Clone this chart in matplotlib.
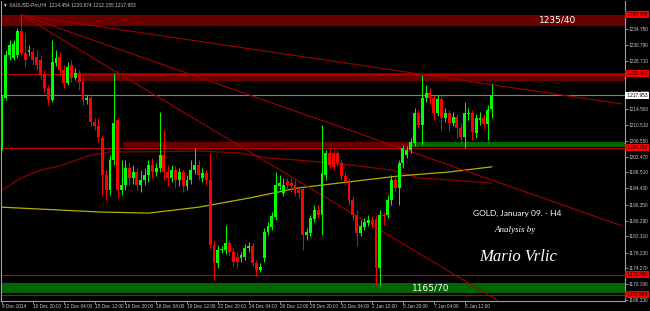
import matplotlib
matplotlib.use('Agg')
import matplotlib.pyplot as plt
import matplotlib.transforms as mtransforms
from matplotlib.patches import Rectangle

# XAUUSD H4 candles, 9 Dec 2014 - 9 Jan 2015
opens = [1204.9, 1217.3, 1228.2, 1227.4, 1228.2, 1234.2, 1228.7, 1229.0, 1229.0, 1227.7,
         1226.9, 1223.1, 1219.9, 1216.8, 1226.1, 1227.7, 1224.4, 1221.1, 1225.6, 1222.4,
         1223.7, 1221.3, 1216.8, 1217.3, 1211.2, 1210.2, 1207.2, 1197.9, 1194.0, 1201.7,
         1211.7, 1194.0, 1195.3, 1199.6, 1197.1, 1198.6, 1195.3, 1196.6, 1197.9, 1200.4,
         1198.6, 1199.6, 1202.9, 1198.6, 1197.1, 1199.1, 1196.6, 1198.6, 1195.1, 1196.6,
         1199.1, 1200.4, 1197.1, 1198.4, 1196.6, 1180.1, 1175.6, 1178.9, 1178.9, 1180.6,
         1178.4, 1177.1, 1176.9, 1177.1, 1179.3, 1179.9, 1175.6, 1173.9, 1176.9, 1183.5,
         1184.7, 1187.3, 1195.1, 1193.3, 1196.4, 1195.8, 1195.3, 1194.0, 1194.3, 1182.7,
         1183.1, 1186.7, 1189.1, 1187.8, 1197.9, 1203.4, 1203.4, 1203.4, 1200.9, 1197.6,
         1196.1, 1191.5, 1187.8, 1183.1, 1184.7, 1185.7, 1186.5, 1186.7, 1174.3, 1187.8,
         1187.8, 1191.5, 1196.6, 1194.5, 1200.9, 1202.9, 1204.2, 1205.9, 1213.5, 1210.5,
         1217.3, 1218.6, 1217.3, 1213.5, 1217.0, 1212.2, 1213.5, 1210.9, 1212.5, 1209.7,
         1207.4, 1213.3, 1213.5, 1208.5, 1211.7, 1212.2, 1210.8, 1214.454]
highs = [1218.1, 1229.5, 1232.0, 1232.0, 1235.0, 1238.3, 1233.7, 1230.7, 1229.9, 1229.4,
         1228.2, 1224.4, 1220.6, 1232.0, 1229.4, 1229.0, 1225.6, 1226.4, 1226.9, 1224.9,
         1224.4, 1222.4, 1218.1, 1217.8, 1212.2, 1212.2, 1207.9, 1199.1, 1202.9, 1223.7,
         1212.2, 1201.7, 1201.7, 1201.2, 1200.4, 1199.6, 1199.1, 1199.6, 1201.7, 1202.2,
         1200.9, 1213.8, 1209.2, 1200.4, 1200.4, 1200.1, 1199.6, 1199.1, 1197.9, 1201.7,
         1204.7, 1201.7, 1199.6, 1199.1, 1203.4, 1181.4, 1180.1, 1179.9, 1185.2, 1181.4,
         1179.3, 1178.4, 1178.4, 1180.4, 1180.9, 1180.6, 1176.3, 1175.6, 1184.5, 1186.0,
         1188.5, 1198.7, 1197.9, 1197.1, 1197.1, 1197.1, 1196.6, 1195.1, 1194.8, 1184.4,
         1187.8, 1190.3, 1190.3, 1210.5, 1204.2, 1204.2, 1204.2, 1204.2, 1201.7, 1198.6,
         1197.1, 1192.5, 1189.1, 1186.5, 1187.0, 1187.8, 1187.5, 1187.5, 1189.1, 1188.5,
         1192.8, 1197.9, 1197.6, 1201.7, 1205.5, 1205.2, 1207.2, 1214.8, 1214.3, 1223.1,
         1220.6, 1219.8, 1218.1, 1218.1, 1217.8, 1214.8, 1214.3, 1213.8, 1213.3, 1210.8,
         1216.3, 1214.8, 1214.3, 1213.3, 1213.8, 1213.3, 1215.6, 1220.874]
lows = [1204.2, 1216.8, 1226.9, 1226.9, 1227.4, 1228.2, 1225.1, 1228.0, 1225.6, 1224.4,
        1221.9, 1218.9, 1215.6, 1216.3, 1225.4, 1223.4, 1219.8, 1220.6, 1221.3, 1221.9,
        1219.3, 1215.6, 1215.8, 1210.2, 1209.2, 1206.2, 1192.8, 1191.5, 1192.8, 1200.4,
        1192.1, 1192.8, 1194.0, 1195.3, 1195.6, 1194.0, 1193.5, 1195.3, 1196.1, 1197.1,
        1197.6, 1198.6, 1196.6, 1195.1, 1196.1, 1194.5, 1195.1, 1193.5, 1194.0, 1195.6,
        1198.2, 1196.6, 1196.1, 1195.3, 1179.3, 1171.3, 1174.4, 1178.1, 1177.9, 1177.4,
        1174.9, 1174.4, 1175.9, 1176.4, 1178.4, 1174.9, 1172.3, 1173.3, 1175.9, 1182.7,
        1183.9, 1186.5, 1194.0, 1192.5, 1194.0, 1193.5, 1192.5, 1192.0, 1178.9, 1181.4,
        1182.4, 1186.0, 1187.0, 1182.7, 1196.6, 1199.6, 1199.1, 1200.1, 1196.6, 1195.3,
        1190.3, 1186.5, 1179.9, 1182.4, 1183.9, 1184.9, 1184.4, 1170.0, 1170.0, 1185.2,
        1187.0, 1190.3, 1193.5, 1190.3, 1199.6, 1202.1, 1203.4, 1205.2, 1209.7, 1205.5,
        1216.3, 1215.8, 1211.7, 1212.7, 1209.2, 1211.2, 1208.7, 1210.2, 1207.2, 1205.5,
        1204.7, 1211.7, 1206.7, 1207.2, 1210.5, 1209.5, 1206.7, 1212.155]
closes = [1217.3, 1228.2, 1230.7, 1231.0, 1234.2, 1228.7, 1226.9, 1229.4, 1226.9, 1225.6,
          1223.1, 1219.9, 1216.8, 1226.4, 1227.4, 1224.4, 1221.1, 1225.1, 1222.4, 1223.7,
          1221.3, 1216.8, 1217.3, 1211.2, 1210.2, 1207.4, 1197.9, 1194.0, 1201.7, 1211.0,
          1194.0, 1195.3, 1199.6, 1197.1, 1198.6, 1195.3, 1196.6, 1197.9, 1200.4, 1198.6,
          1199.6, 1202.9, 1198.6, 1197.1, 1199.1, 1196.6, 1198.6, 1195.1, 1196.6, 1199.1,
          1200.4, 1197.9, 1198.4, 1196.6, 1180.1, 1175.6, 1178.9, 1179.2, 1180.6, 1178.4,
          1175.9, 1175.9, 1177.6, 1179.3, 1179.9, 1175.6, 1173.9, 1174.6, 1183.5, 1184.9,
          1187.5, 1195.3, 1195.8, 1195.3, 1195.3, 1195.1, 1193.3, 1193.3, 1182.7, 1183.5,
          1187.0, 1189.1, 1187.8, 1198.4, 1203.4, 1200.4, 1199.9, 1200.9, 1197.6, 1196.1,
          1191.5, 1187.8, 1183.1, 1184.9, 1186.0, 1186.5, 1185.4, 1174.3, 1187.8, 1187.5,
          1191.5, 1196.6, 1194.5, 1200.9, 1204.7, 1204.2, 1206.2, 1213.5, 1210.5, 1217.3,
          1218.6, 1217.3, 1213.5, 1217.0, 1212.2, 1213.5, 1210.9, 1212.5, 1209.7, 1207.4,
          1213.5, 1213.5, 1208.7, 1212.2, 1212.2, 1210.8, 1214.3, 1217.953]

# moving averages (bar index, price)
ma_slow_bars = [0, 25, 38, 51, 64, 77, 90, 103, 116, 127]
ma_slow = [1189.7, 1188.5, 1188.2, 1189.7, 1192.0, 1194.6, 1196.1, 1197.6, 1198.6, 1199.9]
ma_fast_bars = [0, 5, 10, 15, 22, 28, 38, 51, 62, 69, 77, 90, 101, 108, 116, 127]
ma_fast = [1194.0, 1197.1, 1199.1, 1200.1, 1202.6, 1203.7, 1203.7, 1203.9, 1203.4, 1202.1,
           1201.6, 1200.4, 1199.1, 1197.1, 1196.6, 1195.8]

# trend lines from the 10 Dec high
trend_start = (5, 1238.3)
trend_ends = [(160.8, 1215.8), (160.8, 1185.0), (128.4, 1166.2)]

date_labels = ['9 Dec 2014', '10 Dec 20:00', '12 Dec 04:00', '15 Dec 12:00', '16 Dec 20:00',
               '18 Dec 04:00', '19 Dec 12:00', '22 Dec 20:00', '24 Dec 04:00', '26 Dec 12:00',
               '29 Dec 20:00', '31 Dec 04:00', '2 Jan 12:00', '5 Jan 20:00', '7 Jan 04:00',
               '8 Jan 12:00']
price_ticks = [1234.750, 1230.790, 1226.710, 1218.670, 1214.590, 1210.510, 1206.550,
               1202.470, 1198.510, 1194.430, 1190.350, 1186.290, 1182.310, 1178.230,
               1174.270, 1170.190, 1166.230]
red_levels = [1238.340, 1223.440, 1204.750, 1172.600, 1167.564]
last_price = 1217.953

BULL = '#00ff00'
BEAR = '#ff0000'
ZONE_RED = '#6b0000'
ZONE_GREEN = '#006400'
LINE_RED = '#c00000'
TXT = '#c8c8c8'
SMALL = 'Liberation Sans'

fig = plt.figure(figsize=(6.5, 3.11), dpi=100, facecolor='black')
ax = fig.add_axes([1 / 650, 10.5 / 311, 624 / 650, 299.5 / 311])
ax.set_facecolor('black')
x0, x1 = -0.26, 161.6
ax.set_xlim(x0, x1)
ax.set_ylim(1166.11, 1241.83)

# zones
ax.axhspan(1235.5, 1238.3, color=ZONE_RED, zorder=1, lw=0)
ax.add_patch(Rectangle((20.7, 1221.6), x1 - 20.7, 2.0, color=ZONE_RED, zorder=1, lw=0))
ax.add_patch(Rectangle((31.4, 1204.9), 106.4 - 31.4, 1.3, color=ZONE_RED, zorder=1, lw=0))
ax.add_patch(Rectangle((106.4, 1204.9), x1 - 106.4, 1.3, color=ZONE_GREEN, zorder=1, lw=0))
ax.axhspan(1168.0, 1170.5, color=ZONE_GREEN, zorder=1, lw=0)

# horizontal levels
for lv in red_levels[1:]:
    ax.axhline(lv, color=LINE_RED, lw=0.8, zorder=2)
ax.axhline(last_price, color='#808080', lw=0.8, zorder=2)

# moving averages
ax.plot(ma_fast_bars, ma_fast, color='#8b0000', lw=0.9, zorder=2)
ax.plot(ma_slow_bars, ma_slow, color='#b5b000', lw=0.9, zorder=2)

# trend lines
for ex, ey in trend_ends:
    ax.plot([trend_start[0], ex], [trend_start[1], ey], color='#a00000', lw=0.8, zorder=2)

# candles
for i in range(len(closes)):
    o, h, l, c = opens[i], highs[i], lows[i], closes[i]
    col = BULL if c >= o else BEAR
    ax.vlines(i, l, h, color=col, lw=0.7, zorder=3)
    body = abs(c - o)
    if body < 0.25:
        body = 0.25
    ax.bar(i, body, bottom=min(o, c), width=0.75, color=col, lw=0, zorder=4)

# text on the chart
ax.text(144, 1237.0, '1235/40', color='white', fontsize=6.5, ha='center', va='center', zorder=6)
ax.text(111.3, 1169.3, '1165/70', color='white', fontsize=6.5, ha='center', va='center', zorder=6)
ax.text(133.6, 1188.2, 'GOLD, January 09. - H4', color='white', fontsize=6, ha='center',
        va='center', family='Lato', zorder=6)
ax.text(133.0, 1183.9, 'Analysis by', color='white', fontsize=6.5, ha='center', va='center',
        family='Liberation Serif', style='italic', zorder=6)
ax.text(134.0, 1177.1, 'Mario Vrlic', color='white', fontsize=12, ha='center', va='center',
        family='Liberation Serif', style='italic', zorder=6)

fig.text(3 / 650, 1 - 5 / 311, '\u25bc XAUUSD-Pro,H4  1214.454 1220.874 1212.155 1217.953',
         color=TXT, fontsize=3.5, ha='left', va='center', family=[SMALL, 'DejaVu Sans'])

# axes styling
ax.spines['top'].set_visible(False)
for s in ['left', 'right', 'bottom']:
    ax.spines[s].set_color('#a0a0a0')
    ax.spines[s].set_linewidth(0.8)

ax.set_xticks(range(0, 8 * len(date_labels), 8))
ax.set_xticklabels(date_labels, ha='left', family=SMALL)
ax.yaxis.tick_right()
ax.set_yticks(price_ticks)
ax.set_yticklabels(['%.3f' % p for p in price_ticks], family=SMALL)
ax.tick_params(axis='both', colors='#a0a0a0', labelcolor=TXT, labelsize=3.4, length=2,
               width=0.6, pad=0.8)

# price labels on the scale
trans = mtransforms.blended_transform_factory(ax.transAxes, ax.transData)
for lv in red_levels:
    ax.text(1.001, lv, ' %.3f ' % lv, transform=trans, fontsize=3.4, color='black',
            family=SMALL, ha='left', va='center', clip_on=False, zorder=7,
            bbox=dict(facecolor='#ff0000', edgecolor='none', pad=0.6))
ax.text(1.001, last_price, ' %.3f ' % last_price, transform=trans, fontsize=3.4, color='black',
        family=SMALL, ha='left', va='center', clip_on=False, zorder=7,
        bbox=dict(facecolor='white', edgecolor='none', pad=0.6))

fig.savefig('out.png', dpi=100, facecolor='black')
